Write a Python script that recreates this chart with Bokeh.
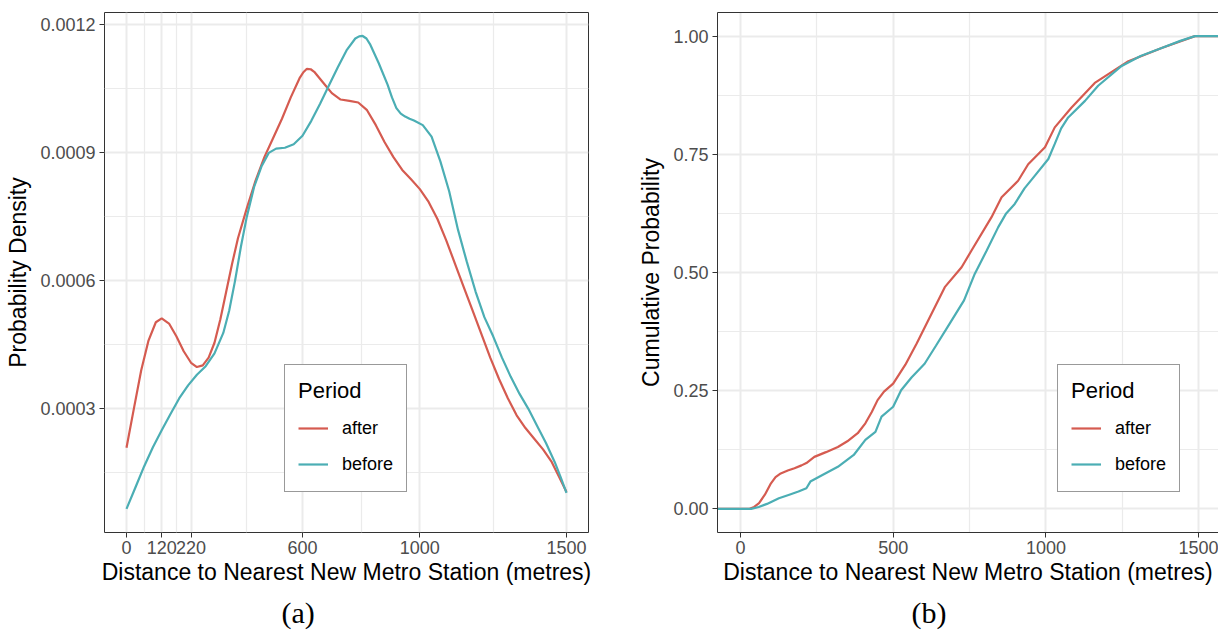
from bokeh.plotting import figure
from bokeh.models import (Range1d, FixedTicker, Legend, LegendItem, Title,
                          LinearAxis, NumeralTickFormatter)
from bokeh.layouts import row
from bokeh.embed import file_html
from bokeh.resources import INLINE

# ---------------- data ----------------
periods = ["after", "before"]
period_colors = ["#D55B50", "#4BAEB4"]

# (a) density
dens_x_after = [0, 25, 50, 75, 100, 120, 145, 170, 195, 220, 240, 260, 280, 300, 320, 340,
                360, 380, 410, 440, 470, 500, 530, 560, 590, 603, 615, 628, 640, 670, 700,
                730, 760, 790, 820, 850, 880, 910, 940, 970, 1000, 1030, 1060, 1090, 1120,
                1150, 1180, 1210, 1240, 1270, 1300, 1330, 1360, 1390, 1420, 1450, 1475, 1500]
dens_y_after = [0.000209, 0.000300, 0.000390, 0.000460, 0.000503, 0.000512, 0.000500,
                0.000470, 0.000435, 0.000408, 0.000398, 0.000402, 0.000420, 0.000455,
                0.000510, 0.000575, 0.000640, 0.000700, 0.000770, 0.000835, 0.000890,
                0.000935, 0.000980, 0.001030, 0.001075, 0.001089, 0.001097, 0.001096,
                0.001090, 0.001065, 0.001040, 0.001025, 0.001022, 0.001018, 0.001000,
                0.000965, 0.000925, 0.000890, 0.000860, 0.000838, 0.000815, 0.000785,
                0.000745, 0.000695, 0.000640, 0.000585, 0.000530, 0.000475, 0.000420,
                0.000370, 0.000325, 0.000285, 0.000255, 0.000230, 0.000205, 0.000175,
                0.000140, 0.000105]

dens_x_before = [0, 30, 60, 90, 120, 150, 180, 210, 240, 270, 300, 330, 350, 370, 390, 410,
                 435, 460, 485, 510, 540, 570, 600, 630, 660, 690, 720, 750, 780, 793, 805,
                 818, 830, 860, 890, 905, 920, 935, 950, 965, 980, 1010, 1040, 1070, 1100,
                 1130, 1160, 1190, 1220, 1250, 1280, 1310, 1340, 1370, 1400, 1430, 1460,
                 1480, 1500]
dens_y_before = [0.0000656, 0.000115, 0.000165, 0.000210, 0.000250, 0.000288, 0.000325,
                 0.000355, 0.000380, 0.000400, 0.000430, 0.000478, 0.000530, 0.000600,
                 0.000680, 0.000750, 0.000820, 0.000868, 0.000900, 0.000910, 0.000912,
                 0.000920, 0.000940, 0.000975, 0.001015, 0.001058, 0.001100, 0.001140,
                 0.001168, 0.001173, 0.001174, 0.001168, 0.001155, 0.001110, 0.001060,
                 0.001030, 0.001005, 0.000992, 0.000985, 0.000980, 0.000976, 0.000965,
                 0.000938, 0.000880, 0.000810, 0.000720, 0.000645, 0.000575, 0.000515,
                 0.000470, 0.000420, 0.000375, 0.000335, 0.000300, 0.000260, 0.000220,
                 0.000175, 0.000140, 0.000103]

dens_x_ticks = [0, 120, 220, 600, 1000, 1500]
dens_x_minor = [60, 170, 410, 800, 1250]
dens_y_ticks = [0.0003, 0.0006, 0.0009, 0.0012]
dens_y_minor = [0.00015, 0.00045, 0.00075, 0.00105]

# (b) cumulative
cdf_x_after = [-75, 30, 45, 61, 80, 100, 115, 132, 155, 177, 200, 216, 242, 280, 319, 350,
               384, 409, 430, 449, 470, 500, 540, 577, 615, 669, 724, 756, 822, 855, 909,
               942, 997, 1029, 1084, 1160, 1270, 1379, 1488, 1575]
cdf_y_after = [0, 0, 0.004, 0.012, 0.030, 0.054, 0.067, 0.075, 0.081, 0.086, 0.092, 0.097,
               0.110, 0.120, 0.131, 0.143, 0.160, 0.181, 0.205, 0.230, 0.248, 0.265, 0.305,
               0.350, 0.399, 0.469, 0.511, 0.546, 0.617, 0.659, 0.694, 0.729, 0.765, 0.807,
               0.849, 0.901, 0.947, 0.975, 1.0, 1.0]

cdf_x_before = [-75, 35, 60, 87, 126, 160, 190, 216, 229, 270, 319, 371, 409, 442, 462, 500,
                526, 560, 603, 640, 685, 732, 767, 805, 844, 870, 898, 930, 964, 1008, 1029,
                1050, 1073, 1128, 1171, 1248, 1310, 1379, 1440, 1488, 1575]
cdf_y_before = [0, 0, 0.004, 0.0105, 0.0225, 0.030, 0.0366, 0.0436, 0.0577, 0.072, 0.089,
                0.114, 0.146, 0.163, 0.195, 0.216, 0.251, 0.278, 0.307, 0.345, 0.392, 0.441,
                0.497, 0.545, 0.596, 0.625, 0.645, 0.678, 0.705, 0.740, 0.772, 0.805, 0.828,
                0.863, 0.895, 0.937, 0.958, 0.975, 0.990, 1.0, 1.0]

cdf_x_ticks = [0, 500, 1000, 1500]
cdf_x_minor = [250, 750, 1250]
cdf_y_ticks = [0.0, 0.25, 0.5, 0.75, 1.0]
cdf_y_minor = [0.125, 0.375, 0.625, 0.875]

x_title = "Distance to Nearest New Metro Station (metres)"
captions = ["(a)", "(b)"]

SANS = "Liberation Sans"
SERIF = "Liberation Serif"


def style_axes(p, xt, xm, yt, ym, yfmt):
    p.xaxis.ticker = FixedTicker(ticks=xt, minor_ticks=xm)
    p.yaxis.ticker = FixedTicker(ticks=yt, minor_ticks=ym)
    p.yaxis.formatter = NumeralTickFormatter(format=yfmt)
    for ax in (p.xaxis + p.yaxis):
        ax.major_tick_line_color = "#333333"
        ax.major_tick_line_width = 1
        ax.major_tick_out = 5
        ax.major_tick_in = 0
        ax.minor_tick_line_color = None
        ax.major_label_text_font = SANS
        ax.major_label_text_font_size = "18px"
        ax.major_label_text_color = "#4D4D4D"
        ax.axis_label_text_font = SANS
        ax.axis_label_text_font_size = "23px"
        ax.axis_label_text_font_style = "normal"
        ax.axis_label_text_color = "#000000"
    p.xaxis.major_label_standoff = 3
    p.xaxis.axis_label_standoff = 2
    p.yaxis.major_label_standoff = 4
    p.yaxis.axis_label_standoff = 6
    for g in (p.xgrid + p.ygrid):
        g.grid_line_color = "#EBEBEB"
        g.grid_line_width = 2
        g.minor_grid_line_color = "#EBEBEB"
        g.minor_grid_line_width = 1.2
    p.background_fill_color = "white"
    p.border_fill_color = "white"


def add_legend(p, renderers, loc):
    leg = Legend(items=[LegendItem(label=lab, renderers=[r]) for lab, r in zip(periods, renderers)],
                 title="Period", location=loc, margin=0, padding=13, spacing=8,
                 glyph_width=30, glyph_height=28, label_standoff=14, title_standoff=10,
                 border_line_color="#333333", border_line_width=1,
                 background_fill_color="white", background_fill_alpha=1.0)
    leg.title_text_font = SANS
    leg.title_text_font_size = "22px"
    leg.title_text_font_style = "normal"
    leg.title_text_color = "#000000"
    leg.label_text_font = SANS
    leg.label_text_font_size = "18px"
    leg.label_text_color = "#000000"
    p.add_layout(leg)


def add_caption(p, text, offset):
    p.add_layout(Title(text=text, align="left", offset=offset, standoff=13,
                       text_font=SERIF, text_font_size="30px", text_font_style="normal",
                       text_color="#000000"), "below")


# ---------------- (a) ----------------
p1 = figure(width=609, height=638, x_range=Range1d(-75, 1575),
            y_range=Range1d(0.0000102, 0.001229), output_backend="svg",
            toolbar_location=None, min_border_left=104, min_border_right=21,
            min_border_top=12, min_border_bottom=106)
style_axes(p1, dens_x_ticks, dens_x_minor, dens_y_ticks, dens_y_minor, "0.0000")
p1.xaxis.axis_label = x_title
p1.yaxis.axis_label = "Probability Density"
p1.xaxis.axis_line_color = None
p1.yaxis.axis_line_color = None
p1.outline_line_color = "#333333"
p1.outline_line_width = 1
ra = p1.line(dens_x_after, dens_y_after, line_color=period_colors[0], line_width=2.2)
rb = p1.line(dens_x_before, dens_y_before, line_color=period_colors[1], line_width=2.2)
add_legend(p1, [ra, rb], (180, 40))
add_caption(p1, captions[0], 177)

# ---------------- (b) ----------------
p2 = figure(width=609, height=638, x_range=Range1d(-75, 1565),
            y_range=Range1d(-0.05, 1.05), output_backend="svg",
            toolbar_location=None, min_border_left=108, min_border_right=0,
            min_border_top=12, min_border_bottom=106)
style_axes(p2, cdf_x_ticks, cdf_x_minor, cdf_y_ticks, cdf_y_minor, "0.00")
p2.xaxis.axis_label = x_title
p2.yaxis.axis_label = "Cumulative Probability"
p2.outline_line_color = None
p2.xaxis.axis_line_color = "#333333"
p2.yaxis.axis_line_color = "#333333"
top_axis = LinearAxis(ticker=FixedTicker(ticks=[]), axis_line_color="#333333",
                      major_tick_line_color=None, minor_tick_line_color=None,
                      major_label_text_font_size="0px", major_tick_out=0, major_tick_in=0,
                      major_label_standoff=0)
p2.add_layout(top_axis, "above")
rc = p2.line(cdf_x_after, cdf_y_after, line_color=period_colors[0], line_width=2.2)
rd = p2.line(cdf_x_before, cdf_y_before, line_color=period_colors[1], line_width=2.2)
add_legend(p2, [rc, rd], (340, 40))
add_caption(p2, captions[1], 194)

layout = row(p1, p2)
open("out.html", "w").write(file_html(layout, INLINE))
